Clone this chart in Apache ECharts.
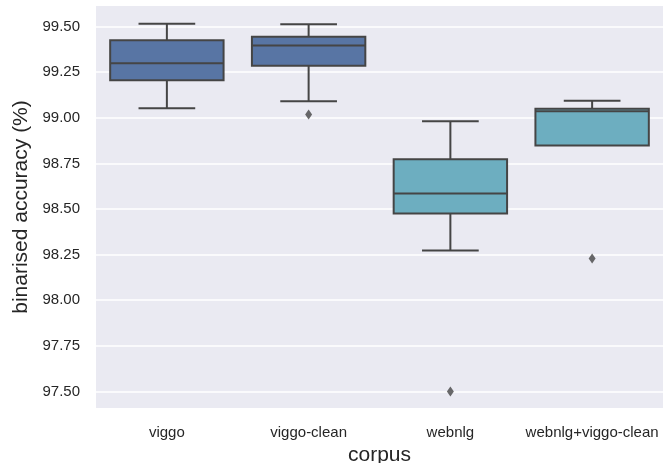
<!DOCTYPE html>
<html>
<head>
<meta charset="utf-8">
<script src="https://cdn.jsdelivr.net/npm/echarts@6/dist/echarts.min.js"></script>
<style>
html,body{margin:0;padding:0;background:#fff;}
#chart{width:663px;height:463px;}
</style>
</head>
<body>
<div id="chart"></div>
<script>
// ---- data ----
var categories = ['viggo', 'viggo-clean', 'webnlg', 'webnlg+viggo-clean'];
var whiskerLow  = [99.053, 99.091, 98.272, 98.848];
var q1          = [99.206, 99.285, 98.475, 98.848];
var medians     = [99.299, 99.396, 98.585, 99.036];
var q3          = [99.425, 99.444, 98.773, 99.050];
var whiskerHigh = [99.516, 99.513, 98.981, 99.093];
var outlierCat  = [1, 2, 3];
var outlierVal  = [99.018, 97.50, 98.228];
var yTicks      = [97.50, 97.75, 98.00, 98.25, 98.50, 98.75, 99.00, 99.25, 99.50];
var yMin = 97.409, yMax = 99.613;
var boxColors = ['#5875a4', '#5875a4', '#6daec0', '#6daec0'];

var edge = '#454545';
var font = "'Liberation Sans', Arial, sans-serif";

var boxData = categories.map(function (c, i) {
  return [i, whiskerLow[i], q1[i], medians[i], q3[i], whiskerHigh[i]];
});
var outlierData = outlierCat.map(function (c, i) { return [c, outlierVal[i]]; });

function renderBox(params, api) {
  var x = api.value(0);
  var band = api.size([1, 0])[0];
  var bw = band * 0.8;
  var cw = band * 0.4;
  var pLo = api.coord([x, api.value(1)]);
  var pQ1 = api.coord([x, api.value(2)]);
  var pMed = api.coord([x, api.value(3)]);
  var pQ3 = api.coord([x, api.value(4)]);
  var pHi = api.coord([x, api.value(5)]);
  var cx = pQ1[0];
  var ls = { stroke: edge, lineWidth: 2 };
  var children = [];
  if (Math.abs(pLo[1] - pQ1[1]) > 0.5) {
    children.push({ type: 'line', shape: { x1: cx, y1: pQ1[1], x2: cx, y2: pLo[1] }, style: ls });
    children.push({ type: 'line', shape: { x1: cx - cw / 2, y1: pLo[1], x2: cx + cw / 2, y2: pLo[1] }, style: ls });
  }
  if (Math.abs(pHi[1] - pQ3[1]) > 0.5) {
    children.push({ type: 'line', shape: { x1: cx, y1: pQ3[1], x2: cx, y2: pHi[1] }, style: ls });
    children.push({ type: 'line', shape: { x1: cx - cw / 2, y1: pHi[1], x2: cx + cw / 2, y2: pHi[1] }, style: ls });
  }
  children.push({
    type: 'rect',
    shape: { x: cx - bw / 2, y: pQ3[1], width: bw, height: pQ1[1] - pQ3[1] },
    style: { fill: boxColors[params.dataIndex], stroke: edge, lineWidth: 2 }
  });
  children.push({ type: 'line', shape: { x1: cx - bw / 2, y1: pMed[1], x2: cx + bw / 2, y2: pMed[1] }, style: ls });
  return { type: 'group', children: children };
}

var chart = echarts.init(document.getElementById('chart'), null, { renderer: 'canvas' });
chart.setOption({
  animation: false,
  backgroundColor: '#ffffff',
  textStyle: { fontFamily: font },
  grid: {
    left: 96, right: 0, top: 6, bottom: 55,
    containLabel: false,
    outerBoundsMode: 'none',
    show: true, backgroundColor: '#eaeaf2', borderWidth: 0
  },
  xAxis: {
    type: 'category',
    data: categories,
    axisLine: { show: false },
    axisTick: { show: false },
    splitLine: { show: false },
    axisLabel: { interval: 0, hideOverlap: false, fontSize: 15, color: '#262626', margin: 17, fontFamily: font },
    name: 'corpus',
    nameLocation: 'middle',
    nameGap: 29,
    nameTextStyle: { fontSize: 21, color: '#262626', fontFamily: font }
  },
  yAxis: {
    type: 'value',
    min: yMin,
    max: yMax,
    axisLine: { show: false },
    axisTick: { show: false },
    splitLine: { show: false },
    axisLabel: {
      customValues: yTicks,
      fontSize: 15, color: '#262626', margin: 16, fontFamily: font,
      formatter: function (v) { return v.toFixed(2); }
    },
    name: 'binarised accuracy (%)',
    nameLocation: 'middle',
    nameGap: 61,
    nameTextStyle: { fontSize: 21, color: '#262626', fontFamily: font }
  },
  series: [
    {
      type: 'line',
      data: [],
      z: 1,
      silent: true,
      markLine: {
        z: 1,
        silent: true,
        symbol: 'none',
        animation: false,
        label: { show: false },
        emphasis: { disabled: true },
        lineStyle: { color: '#ffffff', width: 1.5, type: 'solid' },
        data: yTicks.map(function (t) { return { yAxis: t }; })
      }
    },
    {
      type: 'custom',
      z: 3,
      renderItem: renderBox,
      encode: { x: 0, y: [1, 2, 3, 4, 5] },
      data: boxData
    },
    {
      type: 'scatter',
      z: 4,
      symbol: 'diamond',
      symbolSize: [7, 10],
      itemStyle: { color: edge },
      data: outlierData
    }
  ]
});
</script>
</body>
</html>
